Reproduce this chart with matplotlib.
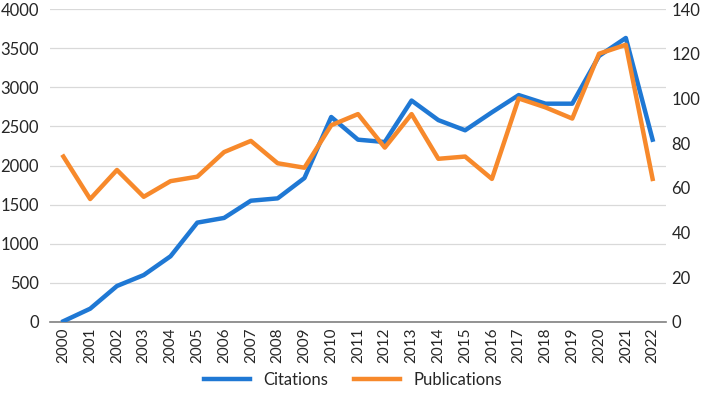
import numpy as np
import matplotlib
matplotlib.use("Agg")
import matplotlib.pyplot as plt

years = [str(y) for y in range(2000, 2023)]
citations = [10, 170, 460, 600, 840, 1270, 1330, 1550, 1580, 1840, 2620, 2330, 2300, 2830,
             2580, 2450, 2680, 2900, 2790, 2790, 3400, 3630, 2330]
publications = [74, 55, 68, 56, 63, 65, 76, 81, 71, 69, 88, 93, 78, 93,
                73, 74, 64, 100, 96, 91, 120, 124, 64]

plt.rcParams['font.family'] = ['Lato', 'DejaVu Sans']
text_col = '#262626'

fig = plt.figure(figsize=(7.06, 3.98), dpi=100)
ax = fig.add_axes([50 / 706, 1 - 322 / 398, 616 / 706, 313 / 398])
ax2 = ax.twinx()

x = np.arange(len(years))
l1, = ax.plot(x, citations, color='#1F78D4', lw=3.2, label='Citations', zorder=3)
l2, = ax2.plot(x, publications, color='#F7892B', lw=3.2, label='Publications', zorder=3)

ax.set_xlim(-0.5, len(years) - 0.5)
ax.set_ylim(0, 4000)
ax.set_yticks(np.arange(0, 4001, 500))
ax2.set_ylim(0, 140)
ax2.set_yticks(np.arange(0, 141, 20))
ax.set_xticks(x)
ax.set_xticklabels(years, rotation=90)

ax.grid(axis='y', color='#D9D9D9', lw=0.9)
ax.set_axisbelow(True)
for a in (ax, ax2):
    for s in a.spines.values():
        s.set_visible(False)
    a.tick_params(length=0, labelsize=12, colors=text_col)
ax.spines['bottom'].set_visible(True)
ax.spines['bottom'].set_color('#808080')
ax.spines['bottom'].set_linewidth(1.2)
ax.tick_params(axis='y', pad=8)
ax.tick_params(axis='x', pad=4, labelsize=11)
ax2.tick_params(axis='y', pad=4)

fig.legend(handles=[l1, l2], loc='center', bbox_to_anchor=(0.5, 1 - 380 / 398), ncol=2,
           frameon=False, fontsize=12, handlelength=2.8, columnspacing=1.5,
           labelcolor=text_col)

fig.savefig('out.png', dpi=100)
